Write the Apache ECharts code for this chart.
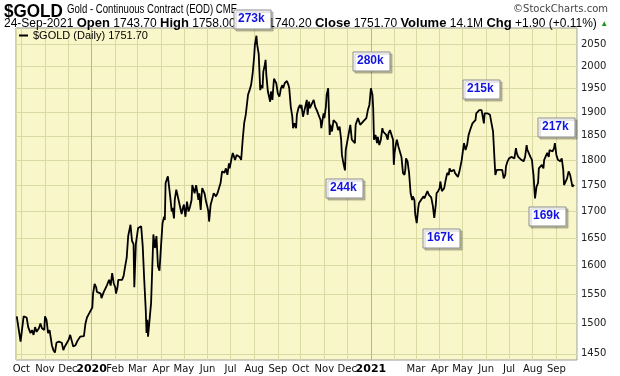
<!DOCTYPE html>
<html>
<head>
<meta charset="utf-8">
<script src="https://cdn.jsdelivr.net/npm/echarts@6/dist/echarts.min.js"></script>
<style>
html,body{margin:0;padding:0;background:#fff;}
#c{width:620px;height:376px;}
</style>
</head>
<body>
<div id="c"></div>
<script>
// ---- data ----
const dates = [
'2019-09-25','2019-09-30','2019-10-04','2019-10-08','2019-10-10','2019-10-13','2019-10-15','2019-10-17','2019-10-19','2019-10-21','2019-10-24','2019-10-26','2019-10-28','2019-10-31',
'2019-11-01','2019-11-03','2019-11-05','2019-11-07','2019-11-10','2019-11-12','2019-11-14','2019-11-16','2019-11-19','2019-11-21','2019-11-23','2019-11-25','2019-11-27','2019-11-29',
'2019-12-02','2019-12-04','2019-12-06','2019-12-08','2019-12-11','2019-12-13','2019-12-15','2019-12-17','2019-12-19','2019-12-22','2019-12-24','2019-12-26','2019-12-28','2019-12-30',
'2020-01-02','2020-01-03','2020-01-05','2020-01-07','2020-01-08','2020-01-10','2020-01-13','2020-01-14','2020-01-17','2020-01-19','2020-01-21','2020-01-24','2020-01-26','2020-01-28','2020-01-30',
'2020-02-01','2020-02-02','2020-02-04','2020-02-05','2020-02-07','2020-02-10','2020-02-12','2020-02-14','2020-02-16','2020-02-18','2020-02-21','2020-02-23','2020-02-25','2020-02-26','2020-02-28',
'2020-03-02','2020-03-04','2020-03-06','2020-03-08','2020-03-10','2020-03-12','2020-03-13','2020-03-14','2020-03-15','2020-03-17','2020-03-19','2020-03-22','2020-03-24','2020-03-26','2020-03-28','2020-03-30',
'2020-04-01','2020-04-03','2020-04-05','2020-04-06','2020-04-07','2020-04-09','2020-04-10','2020-04-12','2020-04-13','2020-04-15','2020-04-16','2020-04-18','2020-04-19','2020-04-21','2020-04-22','2020-04-24','2020-04-26','2020-04-28','2020-04-30',
'2020-05-01','2020-05-03','2020-05-05','2020-05-07','2020-05-09','2020-05-11','2020-05-12','2020-05-14','2020-05-15','2020-05-17','2020-05-18','2020-05-20','2020-05-21','2020-05-23','2020-05-24','2020-05-25','2020-05-27','2020-05-28','2020-05-30',
'2020-06-01','2020-06-02','2020-06-03','2020-06-05','2020-06-08','2020-06-09','2020-06-12','2020-06-14','2020-06-16','2020-06-18','2020-06-20','2020-06-23','2020-06-25','2020-06-27','2020-06-29','2020-06-30',
'2020-07-02','2020-07-04','2020-07-07','2020-07-09','2020-07-11','2020-07-13','2020-07-15','2020-07-17','2020-07-19','2020-07-21','2020-07-24','2020-07-26','2020-07-28','2020-07-30',
'2020-08-01','2020-08-02','2020-08-04','2020-08-05','2020-08-07','2020-08-09','2020-08-10','2020-08-12','2020-08-13','2020-08-15','2020-08-16','2020-08-17','2020-08-19','2020-08-20','2020-08-22','2020-08-23','2020-08-25','2020-08-26','2020-08-27','2020-08-29','2020-08-30',
'2020-09-01','2020-09-03','2020-09-04','2020-09-05','2020-09-07','2020-09-08','2020-09-10','2020-09-11','2020-09-13','2020-09-15','2020-09-16','2020-09-18','2020-09-20','2020-09-21','2020-09-23','2020-09-25','2020-09-26','2020-09-28','2020-09-30',
'2020-10-01','2020-10-02','2020-10-04','2020-10-06','2020-10-09','2020-10-10','2020-10-12','2020-10-13','2020-10-15','2020-10-18','2020-10-20','2020-10-22','2020-10-24','2020-10-27','2020-10-28','2020-10-30','2020-10-31',
'2020-11-01','2020-11-03','2020-11-04','2020-11-06','2020-11-08','2020-11-09','2020-11-11','2020-11-13','2020-11-15','2020-11-17','2020-11-19','2020-11-21','2020-11-23','2020-11-24','2020-11-26','2020-11-28','2020-11-29',
'2020-12-01','2020-12-02','2020-12-03','2020-12-05','2020-12-07','2020-12-09','2020-12-11','2020-12-12','2020-12-14','2020-12-15','2020-12-18','2020-12-20','2020-12-22','2020-12-24','2020-12-26','2020-12-28','2020-12-30',
'2021-01-01','2021-01-03','2021-01-04','2021-01-05','2021-01-07','2021-01-09','2021-01-10','2021-01-12','2021-01-14','2021-01-16','2021-01-17','2021-01-19','2021-01-21','2021-01-23','2021-01-24','2021-01-26','2021-01-28','2021-01-30','2021-01-31',
'2021-02-01','2021-02-03','2021-02-04','2021-02-06','2021-02-08','2021-02-10','2021-02-12','2021-02-14','2021-02-15','2021-02-16','2021-02-18','2021-02-20','2021-02-22','2021-02-24','2021-02-25','2021-02-27','2021-02-28',
'2021-03-02','2021-03-04','2021-03-05','2021-03-07','2021-03-09','2021-03-11','2021-03-12','2021-03-14','2021-03-16','2021-03-18','2021-03-19','2021-03-21','2021-03-23','2021-03-25','2021-03-27','2021-03-28','2021-03-30',
'2021-04-01','2021-04-02','2021-04-04','2021-04-06','2021-04-07','2021-04-09','2021-04-11','2021-04-13','2021-04-14','2021-04-16','2021-04-18','2021-04-20','2021-04-21','2021-04-23','2021-04-25','2021-04-27','2021-04-28','2021-04-30',
'2021-05-02','2021-05-03','2021-05-05','2021-05-07','2021-05-09','2021-05-11','2021-05-12','2021-05-14','2021-05-16','2021-05-18','2021-05-19','2021-05-21','2021-05-23','2021-05-25','2021-05-26','2021-05-28','2021-05-29','2021-05-30',
'2021-06-01','2021-06-03','2021-06-05','2021-06-06','2021-06-08','2021-06-10','2021-06-12','2021-06-13','2021-06-15','2021-06-17','2021-06-19','2021-06-20','2021-06-22','2021-06-24','2021-06-26','2021-06-27','2021-06-29',
'2021-07-01','2021-07-03','2021-07-04','2021-07-06','2021-07-08','2021-07-10','2021-07-11','2021-07-13','2021-07-15','2021-07-17','2021-07-18','2021-07-20','2021-07-22','2021-07-24','2021-07-25','2021-07-27','2021-07-29','2021-07-31',
'2021-08-01','2021-08-02','2021-08-04','2021-08-06','2021-08-08','2021-08-09','2021-08-11','2021-08-13','2021-08-15','2021-08-16','2021-08-18','2021-08-20','2021-08-22','2021-08-23','2021-08-25','2021-08-27','2021-08-29','2021-08-30',
'2021-09-01','2021-09-03','2021-09-04','2021-09-06','2021-09-08','2021-09-10','2021-09-11','2021-09-13','2021-09-15','2021-09-17','2021-09-19','2021-09-22','2021-09-24'
];
const prices = [
1512,1470,1512,1510,1494,1484,1489,1481,1494,1486,1492,1500,1492,1489,
1512,1506,1484,1489,1464,1456,1452,1468,1470,1470,1468,1456,1462,1459,
1473,1481,1478,1462,1464,1470,1474,1478,1478,1479,1500,1510,1515,1518,
1527,1551,1568,1562,1554,1557,1551,1543,1554,1557,1565,1575,1565,1587,1569,
1562,1551,1562,1575,1573,1575,1582,1599,1614,1654,1675,1645,1639,1562,1639,
1669,1672,1672,1636,1575,1523,1484,1506,1478,1481,1535,1657,1632,1654,1599,1591,
1636,1678,1690,1684,1755,1764,1768,1742,1729,1700,1707,1687,1722,1742,1739,1722,1719,1695,1709,
1713,1690,1719,1700,1709,1722,1751,1748,1735,1751,1742,1722,1735,1703,1729,1745,1748,1735,1719,
1707,1700,1681,1713,1729,1735,1729,1735,1732,1755,1778,1775,1784,1771,1794,1784,
1801,1815,1801,1811,1815,1807,1801,1842,1877,1894,1937,1947,1958,1983,
2021,2048,2069,2048,2027,1947,1958,1951,1987,2003,2014,1980,1944,1940,1922,1944,1926,1951,1972,1976,1962,
1940,1933,1940,1951,1958,1951,1962,1958,1967,1958,1951,1911,1890,1866,1876,1866,1894,1908,1915,
1908,1915,1890,1904,1926,1894,1922,1908,1911,1926,1911,1904,1908,1883,1866,1887,1897,
1887,1911,1937,1951,1852,1873,1859,1883,1887,1876,1862,1869,1842,1811,1794,1780,1821,
1838,1842,1835,1873,1842,1838,1835,1873,1869,1887,1873,1869,1880,1883,1887,1904,1915,
1951,1937,1908,1842,1852,1835,1848,1831,1842,1866,1859,1862,1852,1842,1855,1862,1852,1842,1791,
1815,1835,1842,1828,1831,1807,1775,1771,1781,1804,1798,1775,1735,1722,1729,1722,1695,
1678,1707,1716,1719,1725,1729,1725,1732,1739,1732,1729,1727,1712,1688,1713,1735,1739,
1745,1758,1739,1742,1745,1761,1775,1771,1784,1778,1775,1781,1775,1771,1767,1778,1775,1801,
1825,1835,1821,1831,1852,1862,1866,1876,1880,1883,1897,1901,1904,1901,1904,1908,1876,1897,
1894,1897,1894,1894,1876,1859,1862,1771,1781,1778,1781,1778,1781,1764,1771,1788,1798,
1804,1801,1807,1811,1804,1825,1815,1807,1804,1801,1804,1798,1807,1831,1821,1818,1807,1801,
1784,1771,1725,1748,1755,1784,1781,1791,1784,1801,1798,1815,1807,1821,1818,1818,1825,1835,
1811,1801,1801,1798,1804,1781,1751,1748,1764,1778,1771,1748,1751.7
];
const yTicks = [1450,1500,1550,1600,1650,1700,1750,1800,1850,1900,1950,2000,2050];
const xTickLabels = ['Oct','Nov','Dec','2020','Feb','Mar','Apr','May','Jun','Jul','Aug','Sep',
                     'Oct','Nov','Dec','2021','','Mar','Apr','May','Jun','Jul','Aug','Sep'];
const yearLines = ['2020-01-01','2021-01-01'];
const volumeNotes = ['273k','280k','244k','167k','215k','217k','169k'];
const seriesName = '$GOLD (Daily) 1751.70';
const headerSymbol = '$GOLD';
const headerTitle = 'Gold - Continuous Contract (EOD) CME';
const headerLine = '24-Sep-2021 {b|Open} 1743.70 {b|High} 1758.00 {b|Low} 1740.20 {b|Close} 1751.70 {b|Volume} 14.1M {b|Chg} +1.90 (+0.11%) {g|▲}';

// ---- chart ----
const chart = echarts.init(document.getElementById('c'));
const points = dates.map((d, i) => [d, prices[i]]);
const notePos = [[234,10],[353,52],[326,179],[423,229],[463,80],[538,118],[529,207]];

const noteGraphics = [];
volumeNotes.forEach((t, i) => {
  noteGraphics.push({type: 'rect', z: 100, x: notePos[i][0], y: notePos[i][1],
     shape: {x: 0, y: 0, width: 37, height: 19},
     style: {fill: '#ffffff', stroke: '#8c8c8c', lineWidth: 1,
             shadowColor: 'rgba(0,0,0,0.22)', shadowOffsetX: 2, shadowOffsetY: 2, shadowBlur: 1}});
  noteGraphics.push({type: 'text', z: 101, x: notePos[i][0] + 4, y: notePos[i][1] + 3,
     style: {text: t, fill: '#1414e0', font: 'bold 12px "Liberation Sans", Arial, sans-serif'}});
});

const option = {
  animation: false,
  backgroundColor: '#ffffff',
  grid: {left: 16, right: 43, top: 28, bottom: 16, show: true,
         backgroundColor: '#F9F7C9', borderColor: '#9a9a9a', borderWidth: 1},
  legend: {
    data: [{name: seriesName, icon: 'rect'}],
    left: 19, top: 30, padding: 0, itemWidth: 9, itemHeight: 2, itemGap: 4, selectedMode: false,
    textStyle: {fontSize: 11, color: '#000', fontFamily: '"Liberation Sans", Arial, sans-serif'}
  },
  xAxis: {
    type: 'time',
    min: '2019-09-24', max: '2021-09-28',
    splitNumber: 24,
    minInterval: 28 * 86400000,
    axisLine: {show: false},
    axisTick: {show: false},
    axisLabel: {
      fontSize: 10, color: '#111', margin: 4,
      fontFamily: '"DejaVu Sans", Verdana, sans-serif',
      hideOverlap: false,
      showMinLabel: false, showMaxLabel: false,
      formatter: function (val) {
        const d = new Date(val);
        if (d.getDate() !== 1) return '';
        const idx = (d.getFullYear() - 2019) * 12 + d.getMonth() - 9;
        const s = xTickLabels[idx];
        if (s === undefined) return '';
        return /^\d{4}$/.test(s) ? '{y|' + s + '}' : s;
      },
      rich: {y: {fontWeight: 'bold', fontSize: 11, fontFamily: '"DejaVu Sans", Verdana, sans-serif', color: '#000'}}
    },
    splitLine: {show: true, lineStyle: {color: '#D7DAA2', width: 1}}
  },
  yAxis: {
    type: 'log', logBase: 10,
    min: 1440, max: 2087,
    position: 'right',
    axisLine: {show: false}, axisTick: {show: false},
    axisLabel: {show: false}, splitLine: {show: false}
  },
  series: [{
    name: seriesName,
    type: 'line',
    data: points,
    showSymbol: false,
    z: 3,
    lineStyle: {color: '#000', width: 1.8},
    itemStyle: {color: '#000'},
    markLine: {
      silent: true, z: 1, symbol: 'none', animation: false,
      label: {position: 'end', formatter: '{b}', fontSize: 10, color: '#222', distance: 4,
              fontFamily: '"DejaVu Sans", Verdana, sans-serif'},
      lineStyle: {type: 'solid', color: '#D7DAA2', width: 1},
      emphasis: {disabled: true},
      data: yTicks.map(v => ({yAxis: v, name: String(v)})).concat(
        yearLines.map(d => ({xAxis: d, label: {show: false}, lineStyle: {color: '#B5BB84', width: 1, type: 'solid'}}))
      )
    }
  }],
  graphic: [
    {type: 'text', x: 4, y: 2, z: 50, scaleX: 0.9,
     style: {text: headerSymbol, fill: '#000', font: 'bold 19px "Liberation Sans", Arial, sans-serif'}},
    {type: 'text', x: 67, y: 4, z: 50, scaleX: 0.8,
     style: {text: headerTitle, fill: '#000', font: '12px "Liberation Sans", Arial, sans-serif'}},
    {type: 'text', right: 12, top: 4, z: 50,
     style: {text: '©StockCharts.com', fill: '#444', font: '10px "DejaVu Sans", Verdana, sans-serif'}},
    {type: 'text', x: 4, y: 17, z: 50,
     style: {text: headerLine, fill: '#000', font: '12px "Liberation Sans", Arial, sans-serif',
             rich: {b: {fontWeight: 'bold', fontSize: 13, fontFamily: '"Liberation Sans", Arial', fill: '#000'},
                    g: {fontSize: 8, fill: '#1a9a1a'}}}}
  ].concat(noteGraphics)
};
chart.setOption(option);
</script>
</body>
</html>
